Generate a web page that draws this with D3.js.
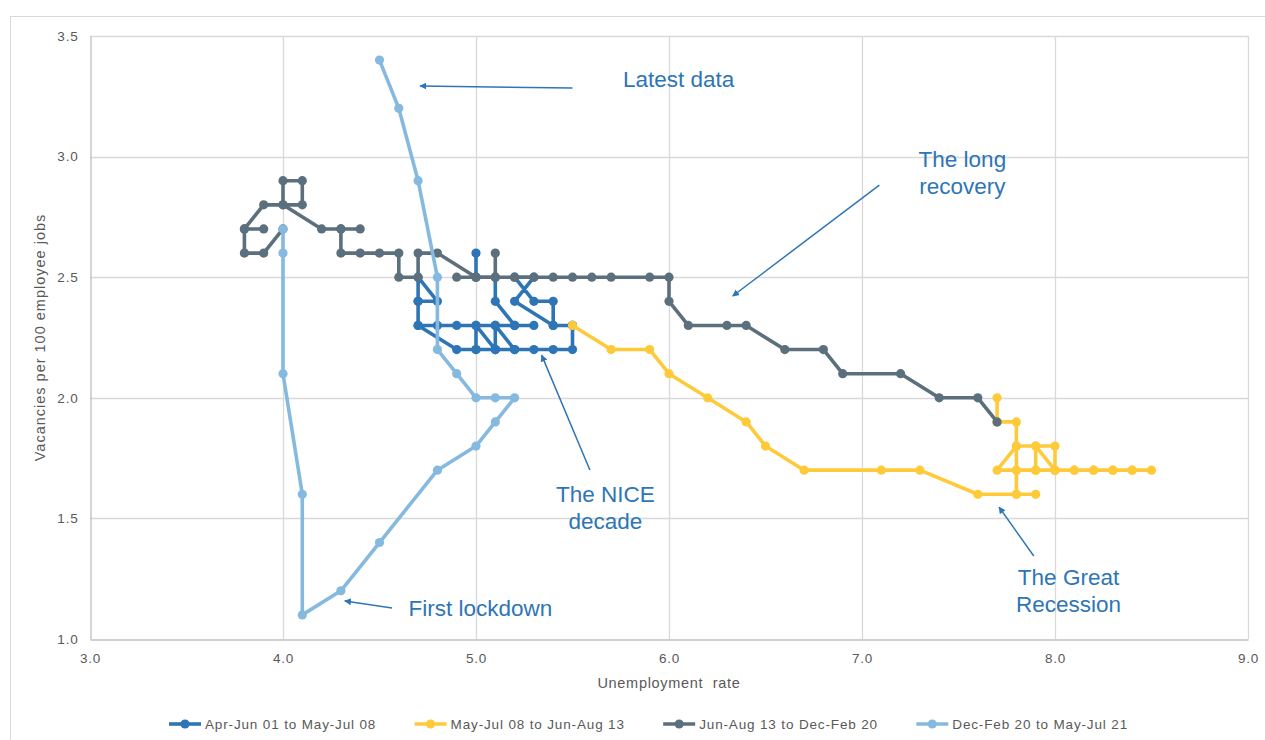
<!DOCTYPE html>
<html>
<head>
<meta charset="utf-8">
<script src="https://cdn.jsdelivr.net/npm/d3@7/dist/d3.min.js"></script>
<style>
  html, body { margin: 0; padding: 0; background: #ffffff; }
  svg { display: block; }
  text { font-family: "Liberation Sans", Arial, sans-serif; }
</style>
</head>
<body>
<svg id="chart" width="1265" height="740"></svg>
<script>
// Beveridge curve: unemployment rate (%) against vacancies per 100 employee jobs

const seriesNames = [
  "Apr-Jun 01 to May-Jul 08",
  "May-Jul 08 to Jun-Aug 13",
  "Jun-Aug 13 to Dec-Feb 20",
  "Dec-Feb 20 to May-Jul 21"
];

// Apr-Jun 01 to May-Jul 08
const unemp2001 = [5.0,5.0,5.1,5.1,5.2,5.3,5.2,5.1,5.2,5.1,5.1,5.0,5.1,5.0,5.0,4.9,4.8,4.7,4.7,4.7,
                   4.8,4.7,4.7,4.9,5.0,5.1,5.2,5.3,5.4,5.5,5.5,5.4,5.4,5.3,5.2,5.3,5.2,5.4,5.5];
const vac2001   = [2.6,2.5,2.5,2.4,2.3,2.3,2.3,2.3,2.2,2.2,2.3,2.3,2.2,2.2,2.3,2.3,2.3,2.3,2.4,2.5,
                   2.4,2.4,2.3,2.2,2.2,2.2,2.2,2.2,2.2,2.2,2.3,2.3,2.4,2.4,2.5,2.5,2.4,2.3,2.3];

// May-Jul 08 to Jun-Aug 13
const unemp2008 = [5.5,5.7,5.9,6.0,6.2,6.4,6.5,6.7,7.1,7.3,7.6,7.8,7.9,7.8,7.8,7.7,7.8,7.9,7.9,8.0,
                   8.1,8.2,8.3,8.4,8.5,8.4,8.3,8.2,8.1,8.0,8.0,7.9,8.0,7.9,7.8,7.8,7.8,7.7,7.7,7.7];
const vac2008   = [2.3,2.2,2.2,2.1,2.0,1.9,1.8,1.7,1.7,1.7,1.6,1.6,1.6,1.6,1.7,1.7,1.8,1.8,1.7,1.7,
                   1.7,1.7,1.7,1.7,1.7,1.7,1.7,1.7,1.7,1.7,1.8,1.8,1.7,1.7,1.7,1.8,1.9,1.9,2.0,1.9];

// Jun-Aug 13 to Dec-Feb 20
const unemp2013 = [7.7,7.6,7.4,7.2,6.9,6.8,6.6,6.4,6.3,6.1,6.0,6.0,5.9,5.7,5.6,5.5,5.4,5.3,5.2,5.1,
                   5.1,5.1,5.0,4.9,5.0,4.8,4.7,4.7,4.6,4.6,4.5,4.4,4.3,4.3,4.4,4.3,4.2,4.0,4.0,4.1,
                   4.1,4.0,3.9,3.8,3.9,3.8,3.8,3.9,4.0];
const vac2013   = [1.9,2.0,2.0,2.1,2.1,2.2,2.2,2.3,2.3,2.3,2.4,2.5,2.5,2.5,2.5,2.5,2.5,2.5,2.5,2.5,
                   2.6,2.5,2.5,2.5,2.5,2.6,2.6,2.5,2.5,2.6,2.6,2.6,2.6,2.7,2.7,2.7,2.7,2.8,2.9,2.9,
                   2.8,2.8,2.8,2.7,2.7,2.7,2.6,2.6,2.7];

// Dec-Feb 20 to May-Jul 21
const unemp2020 = [4.0,4.0,4.0,4.1,4.1,4.3,4.5,4.8,5.0,5.1,5.2,5.1,5.0,4.9,4.8,4.8,4.7,4.6,4.5];
const vac2020   = [2.7,2.6,2.1,1.6,1.1,1.2,1.4,1.7,1.8,1.9,2.0,2.0,2.0,2.1,2.2,2.5,2.9,3.2,3.4];

const xTicks = [3, 4, 5, 6, 7, 8, 9];
const yTicks = [1.0, 1.5, 2.0, 2.5, 3.0, 3.5];

const xTitle = "Unemployment  rate";
const yTitle = "Vacancies per 100 employee jobs";

// Callout labels, anchored in data units
const noteText   = [["Latest data"], ["The long", "recovery"], ["The NICE", "decade"], ["The Great", "Recession"], ["First lockdown"]];
const noteAt     = [[6.05, 3.29], [7.52, 2.955], [5.67, 1.57], [8.07, 1.223], [4.65, 1.095]];
const noteAnchor = ["middle", "middle", "middle", "middle", "start"];
const arrowFrom  = [[5.50, 3.284], [7.09, 2.882], [5.59, 1.701], [7.89, 1.344], [4.565, 1.129]];
const arrowTo    = [[4.71, 3.293], [6.33, 2.422], [5.34, 2.177], [7.71, 1.547], [4.32, 1.158]];

const colors = ["#2E75B6", "#FFCA3A", "#5B6F7C", "#85B9DF"];
const noteColor = "#2E75B6";

const series = [
  { name: seriesNames[0], u: unemp2001, v: vac2001 },
  { name: seriesNames[1], u: unemp2008, v: vac2008 },
  { name: seriesNames[2], u: unemp2013, v: vac2013 },
  { name: seriesNames[3], u: unemp2020, v: vac2020 }
].map((s, i) => ({ ...s, color: colors[i], points: s.u.map((u, j) => [u, s.v[j]]) }));

const svg = d3.select("#chart");
const W = 1265, H = 740;
const plot = { left: 90, right: 1248, top: 36, bottom: 639 };

const x = d3.scaleLinear().domain([3, 9]).range([plot.left, plot.right]);
const y = d3.scaleLinear().domain([1, 3.5]).range([plot.bottom, plot.top]);

// outer chart frame
svg.append("rect")
  .attr("x", 10.5).attr("y", 16.5)
  .attr("width", W).attr("height", H)
  .attr("fill", "#fff").attr("stroke", "#d9d9d9").attr("stroke-width", 1);

// gridlines
const grid = svg.append("g").attr("class", "grid");
grid.selectAll("line.v").data(xTicks.slice(1)).join("line")
  .attr("x1", d => Math.round(x(d)) + 0.5).attr("x2", d => Math.round(x(d)) + 0.5)
  .attr("y1", plot.top).attr("y2", plot.bottom)
  .attr("stroke", "#d9d9d9").attr("stroke-width", 1.3);
grid.selectAll("line.h").data(yTicks.slice(1)).join("line")
  .attr("y1", d => Math.round(y(d)) + 0.5).attr("y2", d => Math.round(y(d)) + 0.5)
  .attr("x1", plot.left).attr("x2", plot.right)
  .attr("stroke", "#d9d9d9").attr("stroke-width", 1.3);

// axes
const xAxis = svg.append("g")
  .attr("transform", `translate(0,${Math.round(plot.bottom) + 0.5})`)
  .call(d3.axisBottom(x).tickValues(xTicks).tickFormat(d3.format(".1f")).tickSize(0).tickPadding(14));
const yAxis = svg.append("g")
  .attr("transform", `translate(${plot.left + 0.5},0)`)
  .call(d3.axisLeft(y).tickValues(yTicks).tickFormat(d3.format(".1f")).tickSize(0).tickPadding(12));
[xAxis, yAxis].forEach(g => {
  g.select(".domain").attr("stroke", "#bfbfbf").attr("stroke-width", 1.3);
  g.selectAll("text")
    .attr("fill", "#595959")
    .style("font-size", "13.5px")
    .style("letter-spacing", "0.8px");
});

// axis titles
svg.append("text")
  .attr("x", (plot.left + plot.right) / 2).attr("y", 688)
  .attr("text-anchor", "middle")
  .attr("fill", "#595959").style("font-size", "14.5px").style("letter-spacing", "0.7px")
  .style("white-space", "pre")
  .text(xTitle);
svg.append("text")
  .attr("transform", `translate(45,${(plot.top + plot.bottom) / 2}) rotate(-90)`)
  .attr("text-anchor", "middle")
  .attr("fill", "#595959").style("font-size", "14.5px").style("letter-spacing", "1px")
  .text(yTitle);

// series: line then markers, in legend order
const line = d3.line().x(d => x(d[0])).y(d => y(d[1]));
const marks = svg.append("g").attr("class", "series");
series.forEach(s => {
  const g = marks.append("g");
  g.append("path")
    .attr("d", line(s.points))
    .attr("fill", "none")
    .attr("stroke", s.color)
    .attr("stroke-width", 3.6)
    .attr("stroke-linejoin", "round")
    .attr("stroke-linecap", "round");
  g.selectAll("circle").data(s.points).join("circle")
    .attr("cx", d => x(d[0])).attr("cy", d => y(d[1]))
    .attr("r", 4.6)
    .attr("fill", s.color);
});

// callouts with arrows
const defs = svg.append("defs");
defs.append("marker")
  .attr("id", "arrowHead")
  .attr("viewBox", "0 0 10 10")
  .attr("refX", 9).attr("refY", 5)
  .attr("markerWidth", 7).attr("markerHeight", 7)
  .attr("markerUnits", "userSpaceOnUse")
  .attr("orient", "auto")
  .append("path").attr("d", "M0,0 L10,5 L0,10 Z").attr("fill", noteColor);

const notes = svg.append("g").attr("class", "notes");
arrowFrom.forEach((a, i) => {
  notes.append("line")
    .attr("x1", x(a[0])).attr("y1", y(a[1]))
    .attr("x2", x(arrowTo[i][0])).attr("y2", y(arrowTo[i][1]))
    .attr("stroke", noteColor).attr("stroke-width", 1.5)
    .attr("marker-end", "url(#arrowHead)");
});
noteText.forEach((lines, i) => {
  const t = notes.append("text")
    .attr("x", x(noteAt[i][0])).attr("y", y(noteAt[i][1]))
    .attr("text-anchor", noteAnchor[i])
    .attr("fill", noteColor)
    .style("font-size", "22.5px");
  lines.forEach((ln, k) => {
    t.append("tspan").attr("x", x(noteAt[i][0])).attr("dy", k === 0 ? 0 : 27).text(ln);
  });
});

// legend, spread across the bottom of the chart
const legend = svg.append("g").attr("class", "legend");
const legendY = 724, legendStart = 169, legendEnd = 1128;
const items = series.map(s => {
  const g = legend.append("g");
  g.append("line").attr("x1", 0).attr("x2", 32).attr("y1", 0).attr("y2", 0)
    .attr("stroke", s.color).attr("stroke-width", 3.6);
  g.append("circle").attr("cx", 16).attr("cy", 0).attr("r", 4.6).attr("fill", s.color);
  const t = g.append("text").attr("x", 36).attr("y", 4.5)
    .attr("fill", "#595959").style("font-size", "13.5px").style("letter-spacing", "0.85px")
    .text(s.name);
  return { g, w: 36 + t.node().getComputedTextLength() };
});
const gap = (legendEnd - legendStart - d3.sum(items, d => d.w)) / (items.length - 1);
let cursor = legendStart;
items.forEach(it => {
  it.g.attr("transform", `translate(${cursor},${legendY})`);
  cursor += it.w + gap;
});
</script>
</body>
</html>
